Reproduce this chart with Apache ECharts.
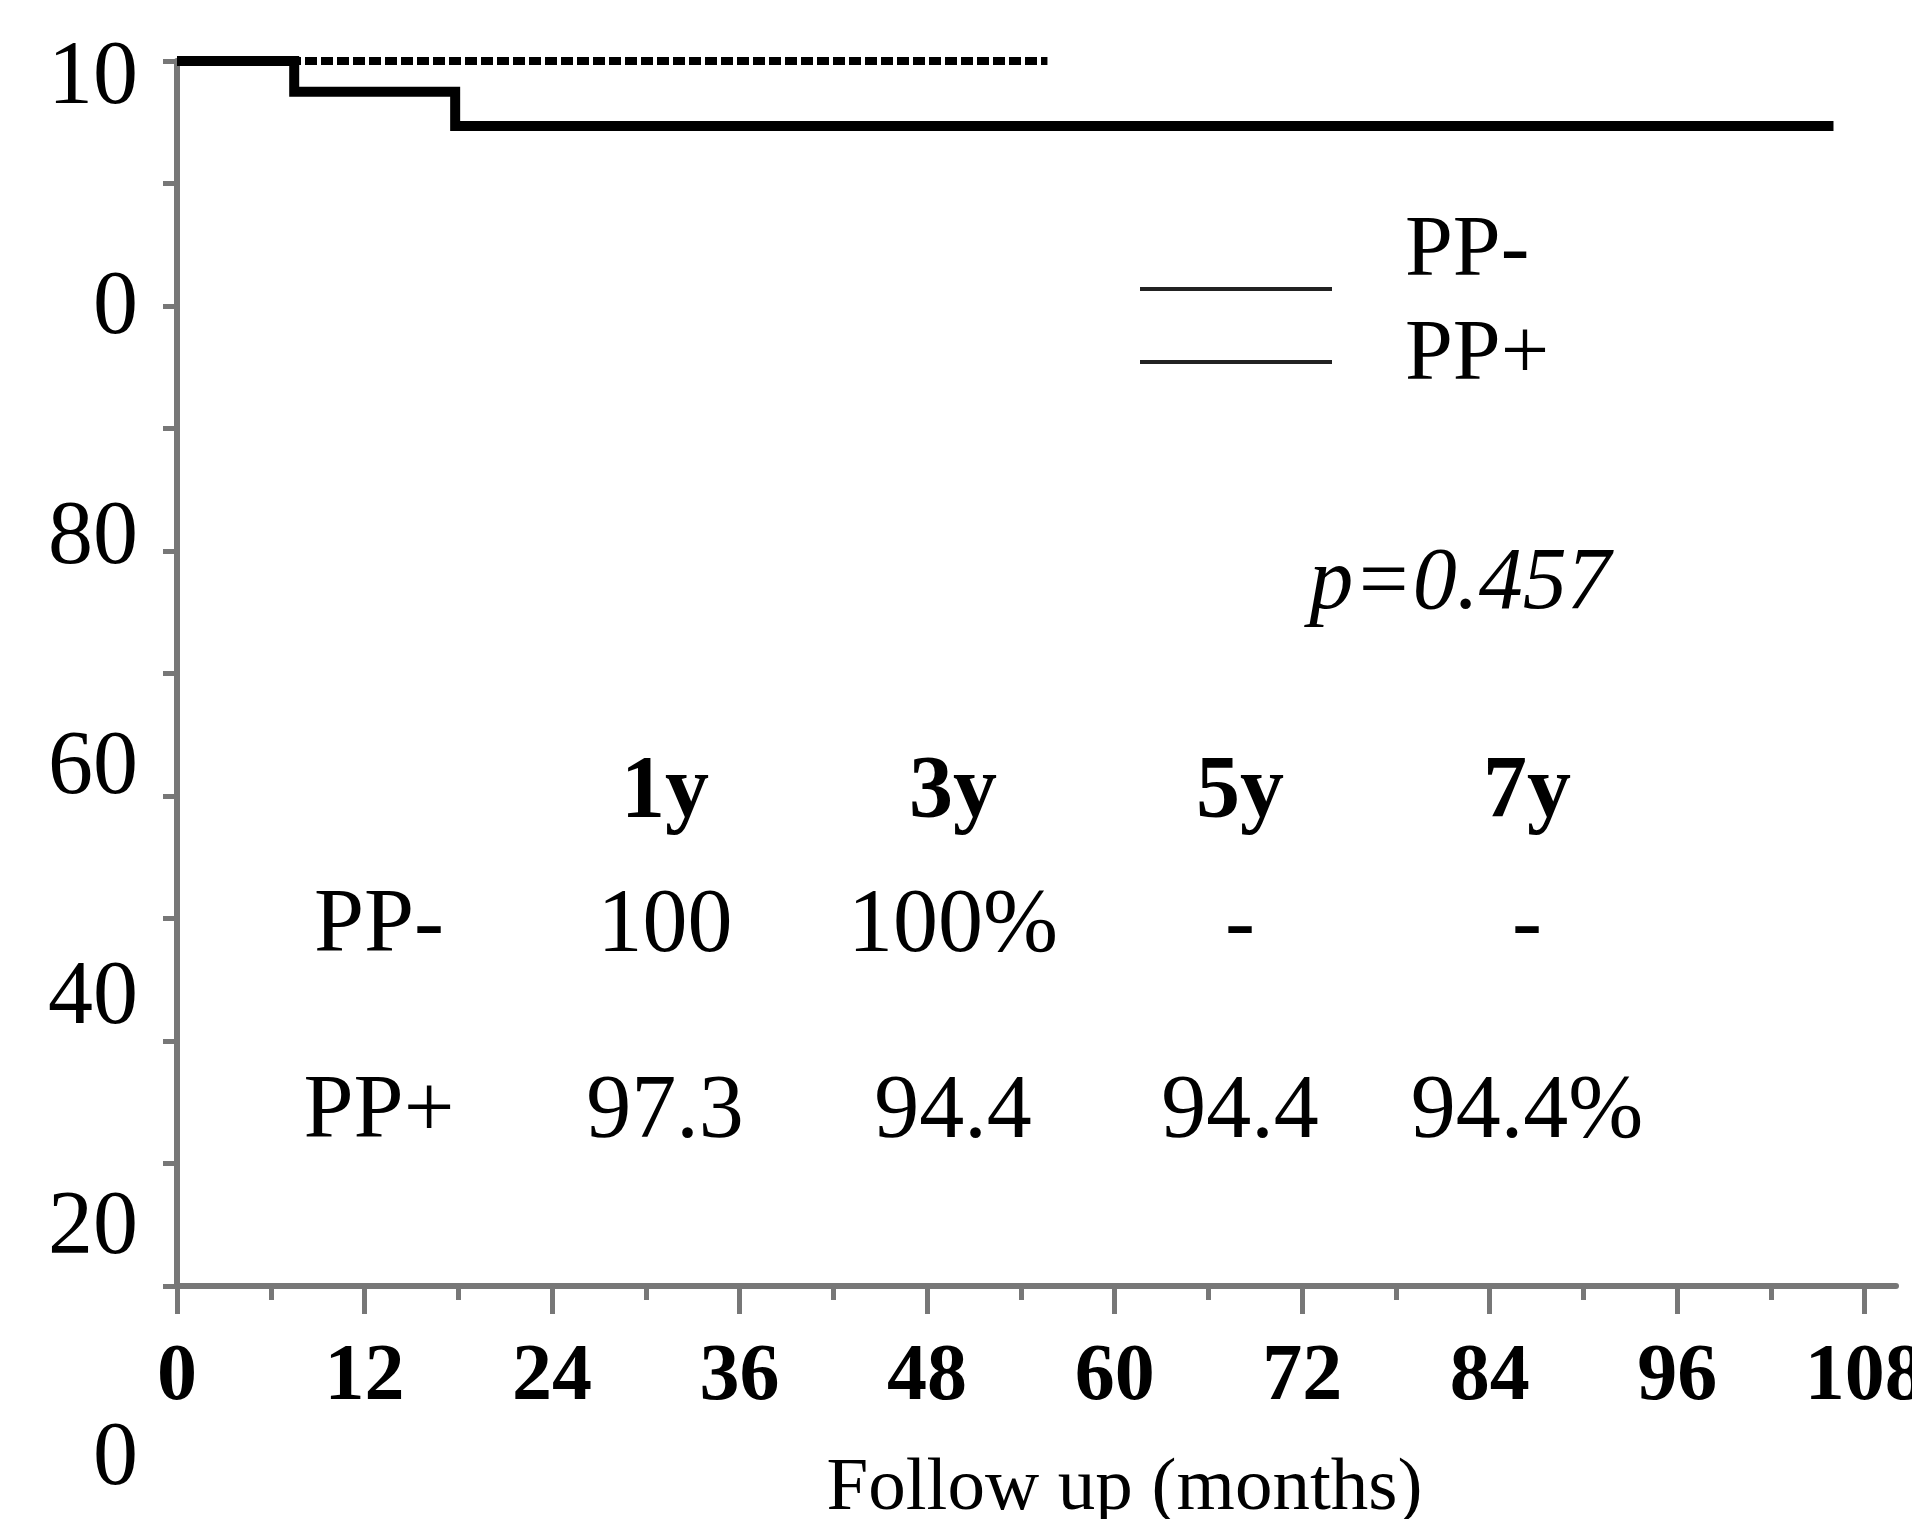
<!DOCTYPE html>
<html>
<head>
<meta charset="utf-8">
<script src="https://cdn.jsdelivr.net/npm/echarts@6/dist/echarts.min.js"></script>
<style>
  html, body { margin: 0; padding: 0; background: #fff; }
  #chart { width: 1912px; height: 1519px; }
</style>
</head>
<body>
<div id="chart"></div>
<script>
// survival curves (months, %)
const ppMinus = [[0, 100], [55.7, 100]]
const ppPlus = [[0, 100], [7.5, 97.5], [17.8, 94.7], [106, 94.7]]

// axis ticks / labels
const xMajorTicks = [0, 12, 24, 36, 48, 60, 72, 84, 96, 108]
const xMinorTicks = [6, 18, 30, 42, 54, 66, 78, 90, 102]
const yTickLabels = ['10', '0', '80', '60', '40', '20', '0']

// survival table
const tableHeads = ['1y', '3y', '5y', '7y']
const ppMinusRates = ['100', '100%', '-', '-']
const ppPlusRates = ['97.3', '94.4', '94.4', '94.4%']

const font = 'Liberation Serif'
const axisGray = '#777'

const chart = echarts.init(document.getElementById('chart'))

// table layout
const colX = [665, 953, 1240, 1527]
const rowLabelX = 379
const rowY = { head: 793, minus: 927, plus: 1113 }

function txt(text, x, y, size, opts) {
  return {
    type: 'text',
    x: x,
    y: y,
    style: Object.assign({
      text: text,
      font: size + 'px "' + font + '"',
      fill: '#000',
      textAlign: 'center',
      textVerticalAlign: 'middle'
    }, opts || {})
  }
}

const graphics = []
tableHeads.forEach((t, i) => {
  graphics.push(txt(t, colX[i], rowY.head, 88, { font: 'bold 88px "' + font + '"' }))
})
graphics.push(txt('PP-', rowLabelX, rowY.minus, 90))
graphics.push(txt('PP+', rowLabelX, rowY.plus, 90))
ppMinusRates.forEach((t, i) => graphics.push(txt(t, colX[i], rowY.minus, 90)))
ppPlusRates.forEach((t, i) => graphics.push(txt(t, colX[i], rowY.plus, 90)))

// legend
graphics.push({ type: 'line', shape: { x1: 1140, y1: 289, x2: 1332, y2: 289 }, style: { stroke: '#222', lineWidth: 4 } })
graphics.push({ type: 'line', shape: { x1: 1140, y1: 362, x2: 1332, y2: 362 }, style: { stroke: '#222', lineWidth: 4 } })
graphics.push(txt('PP-', 1405, 252, 86, { textAlign: 'left' }))
graphics.push(txt('PP+', 1405, 356, 86, { textAlign: 'left' }))

// p value
graphics.push(txt('p=0.457', 1460, 585, 88, { font: 'italic 88px "' + font + '"' }))

const option = {
  backgroundColor: '#fff',
  animation: false,
  grid: [
    { left: 177, top: 61, right: 16, bottom: 233, outerBoundsMode: 'none' },
    { left: 177, top: 79, right: 16, bottom: 59, outerBoundsMode: 'none' }
  ],
  xAxis: [
    {
      type: 'value',
      gridIndex: 0,
      min: 0,
      max: 110,
      interval: 12,
      splitLine: { show: false },
      axisLine: { lineStyle: { color: axisGray, width: 6 } },
      axisTick: { customValues: xMajorTicks, length: 28, lineStyle: { color: axisGray, width: 5 } },
      axisLabel: {
        customValues: xMajorTicks,
        margin: 52,
        color: '#000',
        fontFamily: font,
        fontWeight: 'bold',
        fontSize: 80
      },
      name: 'Follow up (months)',
      nameLocation: 'middle',
      nameGap: 166,
      nameTextStyle: { fontFamily: font, fontSize: 75, color: '#000', padding: [0, 0, 0, 176] }
    },
    {
      type: 'value',
      gridIndex: 0,
      min: 0,
      max: 110,
      position: 'bottom',
      splitLine: { show: false },
      axisLine: { show: false },
      axisTick: { customValues: xMinorTicks, length: 14, lineStyle: { color: axisGray, width: 5 } },
      axisLabel: { show: false }
    },
    {
      type: 'value',
      gridIndex: 1,
      show: false
    }
  ],
  yAxis: [
    {
      type: 'value',
      gridIndex: 0,
      min: 0,
      max: 100,
      interval: 10,
      splitLine: { show: false },
      axisLine: { lineStyle: { color: axisGray, width: 6 } },
      axisTick: { length: 14, lineStyle: { color: axisGray, width: 5 } },
      axisLabel: { show: false }
    },
    {
      // tick labels as they appear in the (cropped) figure
      type: 'value',
      gridIndex: 1,
      min: 0,
      max: 6,
      interval: 1,
      inverse: true,
      splitLine: { show: false },
      axisLine: { show: false },
      axisTick: { show: false },
      axisLabel: {
        margin: 39,
        color: '#000',
        fontFamily: font,
        fontSize: 90,
        formatter: v => yTickLabels[v]
      }
    }
  ],
  series: [
    {
      name: 'PP-',
      type: 'line',
      xAxisIndex: 0,
      yAxisIndex: 0,
      step: 'end',
      symbol: 'none',
      data: ppMinus,
      lineStyle: { color: '#000', width: 8, type: [12, 4], cap: 'butt' },
      z: 3
    },
    {
      name: 'PP+',
      type: 'line',
      xAxisIndex: 0,
      yAxisIndex: 0,
      step: 'end',
      symbol: 'none',
      data: ppPlus,
      lineStyle: { color: '#000', width: 10, cap: 'butt', join: 'miter' },
      z: 4
    }
  ],
  graphic: graphics
}

chart.setOption(option)
window.addEventListener('resize', () => {
  chart.resize()
})
</script>
</body>
</html>
